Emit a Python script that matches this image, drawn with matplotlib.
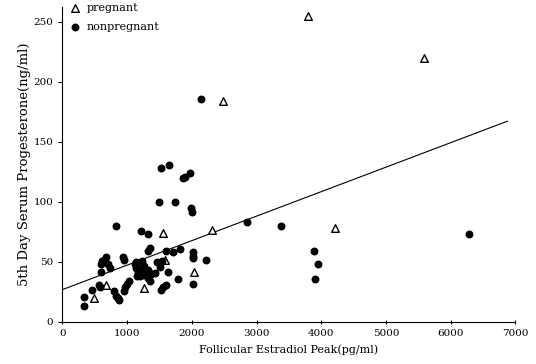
import numpy as np
import matplotlib
matplotlib.use("Agg")
import matplotlib.pyplot as plt

# values
preg_x = [3790, 5580, 2485, 1560, 2310, 4210, 1580, 2030, 670, 1255, 490]
preg_y = [255, 220, 184, 74, 77, 78, 52, 42, 31, 28, 20]

nonpreg_x = [2145,
             1530, 1645, 1865, 1895, 1970,
             1490, 1740, 1985, 1995,
             820, 1215, 1315,
             2850, 3380, 6290,
             3890, 3955, 3900,
             1350, 1325,
             1595, 1715, 1815,
             2010, 2010, 2015, 2220,
             668, 646, 606, 595, 698, 734, 595,
             940, 955,
             1136, 1121, 1136, 1224, 1249,
             1172, 1213, 1264, 1327, 1368, 1327, 1301, 1196, 1311, 1353,
             1456, 1507, 1533,
             1636, 1430, 1780, 2020,
             1595, 1558, 1522,
             564, 580, 451, 337, 337,
             801, 827, 853, 869,
             966, 992, 1028, 956,
             1147, 1172, 1224]
nonpreg_y = [186,
             128, 131, 120, 121, 124,
             100, 100, 95, 92,
             80, 76, 73,
             83, 80, 73,
             59, 48, 36,
             62, 59,
             59, 58, 61,
             58, 55, 53, 52,
             54, 52, 51, 48, 48, 45, 42,
             54, 52,
             50, 48, 45, 51, 45,
             45, 42, 47, 43, 40, 37, 39, 38, 38, 34,
             50, 46, 51,
             42, 41, 36, 32,
             31, 29, 27,
             31, 29, 27, 21, 13,
             26, 22, 20, 18,
             29, 32, 34, 26,
             38, 41, 39]

fit_intercept = 27
fit_slope = 0.0204
fit_x_end = 6875

plt.rcParams['font.family'] = ['DejaVu Serif']

fig = plt.figure(figsize=(5.36, 3.64), dpi=100)
ax = fig.add_axes([0.1166, 0.1154, 0.845, 0.864])

fx = np.array([0, fit_x_end])
ax.plot(fx, fit_intercept + fit_slope * fx, color='black', lw=0.8)

ax.scatter(preg_x, preg_y, marker='^', s=30, facecolors='white',
           edgecolors='black', linewidths=1.0, label='pregnant', zorder=3)
ax.scatter(nonpreg_x, nonpreg_y, marker='o', s=22, color='black',
           label='nonpregnant', zorder=3)

ax.set_xlim(0, 7000)
ax.set_ylim(0, 262)
ax.set_xticks(np.arange(0, 7001, 1000))
ax.set_yticks(np.arange(0, 251, 50))
ax.spines['top'].set_visible(False)
ax.spines['right'].set_visible(False)
ax.tick_params(axis='both', labelsize=7.5, length=3, width=0.8)
ax.tick_params(axis='x', direction='inout')

ax.set_xlabel('Follicular Estradiol Peak(pg/ml)', fontsize=8, labelpad=5)
ax.set_ylabel('5th Day Serum Progesterone(ng/ml)', fontsize=9.5, labelpad=2)

ax.legend(loc='upper left', frameon=False, fontsize=8, handletextpad=0.6,
          borderaxespad=0.0, labelspacing=0.85, handlelength=1.0,
          bbox_to_anchor=(0.005, 1.03))

fig.savefig('out.png', dpi=100)
